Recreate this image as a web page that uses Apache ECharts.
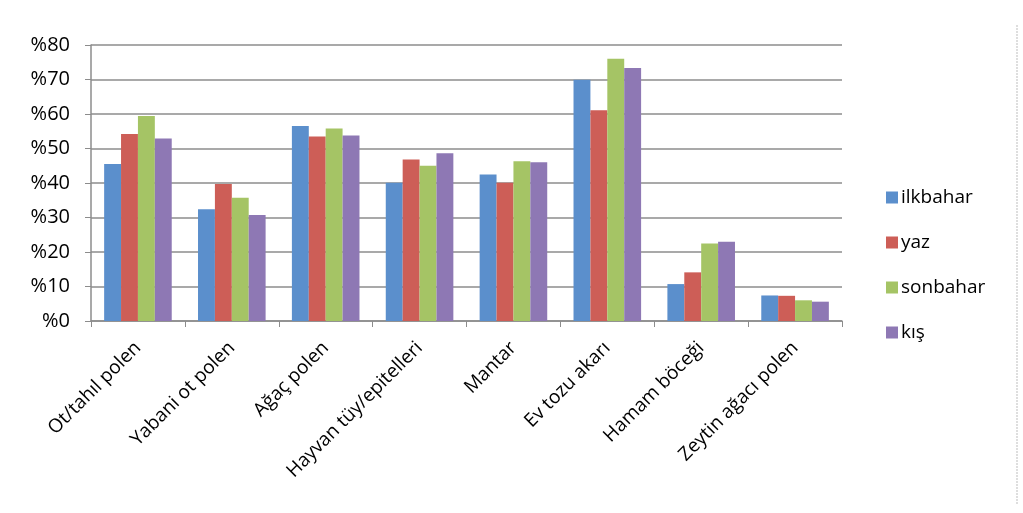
<!DOCTYPE html>
<html><head><meta charset="utf-8">
<script src="https://cdn.jsdelivr.net/npm/echarts@6/dist/echarts.min.js"></script>
<style>html,body{margin:0;padding:0;background:#fff}#c{width:1023px;height:513px}</style>
</head><body><div id="c"></div>
<script>
const categories = ["Ot/tahıl polen","Yabani ot polen","Ağaç polen","Hayvan tüy/epitelleri","Mantar","Ev tozu akarı","Hamam böceği","Zeytin ağacı polen"];
const seriesNames = ["ilkbahar","yaz","sonbahar","kış"];
const ilkbahar = [45.5,32.4,56.5,40.1,42.5,69.9,10.7,7.4];
const yaz      = [54.2,39.7,53.5,46.8,40.1,61.1,14.1,7.3];
const sonbahar = [59.4,35.7,55.8,45.0,46.3,76.0,22.5,6.0];
const kis      = [52.9,30.7,53.8,48.6,46.0,73.3,23.0,5.6];
const colors = ["#5B8FCC","#CD5E57","#A5C465","#8E78B4"];
const seriesData = [ilkbahar,yaz,sonbahar,kis];
const font = "'Open Sans', 'Noto Sans', sans-serif";
const chart = echarts.init(document.getElementById('c'));
chart.setOption({
  animation:false,
  backgroundColor:'#fff',
  grid:{left:91,top:45,width:751,height:276,containLabel:false},
  legend:{orient:'vertical',left:881,top:183,itemGap:26,itemWidth:12,itemHeight:12,icon:'rect',
    textStyle:{fontFamily:font,fontSize:19,color:'#000',padding:[0,0,0,-2]},data:seriesNames},
  xAxis:{type:'category',data:categories,
    axisLine:{lineStyle:{color:'#8c8c8c',width:1.5}},
    axisTick:{show:true,length:6,lineStyle:{color:'#8c8c8c'}},
    axisLabel:{rotate:45,fontFamily:font,fontSize:19,color:'#000',margin:24,interval:0}},
  yAxis:{type:'value',min:0,max:80,interval:10,
    axisLine:{show:true,lineStyle:{color:'#8c8c8c',width:1.5}},
    axisTick:{show:true,inside:false,length:6,lineStyle:{color:'#8c8c8c'}},
    splitLine:{lineStyle:{color:'#8c8c8c',width:1.5}},
    axisLabel:{formatter:v=>'%'+v,fontFamily:font,fontSize:20,color:'#000',margin:21}},
  series:seriesNames.map((n,i)=>({name:n,type:'bar',data:seriesData[i],
    itemStyle:{color:colors[i]},barGap:'0%',barCategoryGap:'28%'})),
  graphic:[{type:'line',shape:{x1:1017,y1:25,x2:1017,y2:505},
    style:{stroke:'#bdbdbd',lineWidth:1,lineDash:[2,1]}}]
});
</script></body></html>
